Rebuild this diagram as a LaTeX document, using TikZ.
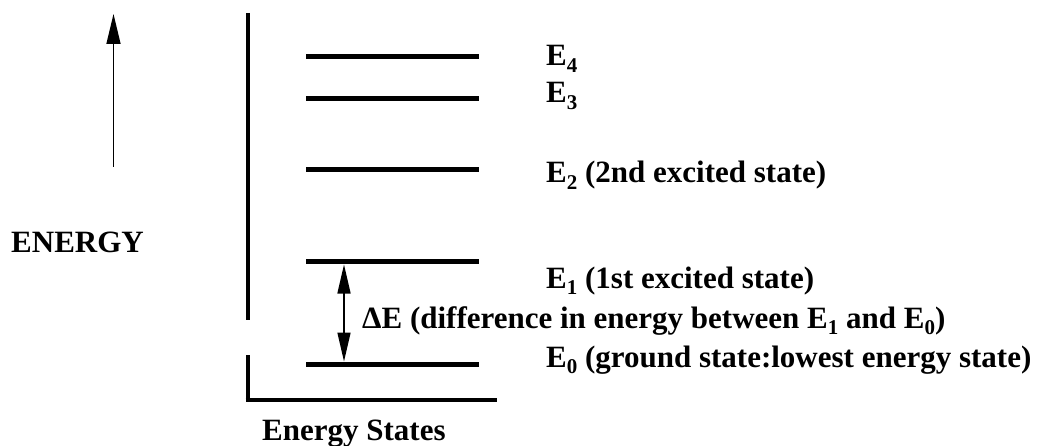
\documentclass[tikz,border=0pt]{standalone}
\usepackage{fontspec}
\setmainfont{Liberation Serif}
\usetikzlibrary{arrows.meta}
\newcommand{\mysub}[1]{\raisebox{-0.2em}{\fontsize{21}{21}\selectfont #1}}
\tikzset{
  lbl/.style={anchor=base west, inner sep=0pt, font=\fontsize{31}{37}\selectfont\bfseries},
  level/.style={line width=5pt},
  frame/.style={line width=4.8pt},
  tip/.style={-{Triangle[length=30pt,width=14pt]}, line width=1.5pt},
  dtip/.style={{Triangle[length=29pt,width=13pt]}-{Triangle[length=29pt,width=13pt]}, line width=1.5pt}
}
\begin{document}
\begin{tikzpicture}[x=1pt,y=-1pt]
\useasboundingbox (0,0) rectangle (1049,446);
% energy arrow
\coordinate (ea) at (113.5,167);
\coordinate (eb) at (113.5,14);
\draw[tip] (ea) -- (eb);
% frame
\coordinate (f1) at (248,13);
\coordinate (f2) at (248,320);
\coordinate (f3) at (248,355);
\coordinate (f4) at (248,402.4);
\coordinate (f5) at (497,400);
\draw[frame] (f1) -- (f2);
\draw[frame] (f3) -- (f4);
\draw[frame] (245.6,400) -- (f5);
% levels
\foreach \n/\y in {4/57,3/99,2/170,1/262,0/364}{
  \coordinate (L\n a) at (306,\y);
  \coordinate (L\n b) at (479,\y);
  \draw[level] (L\n a) -- (L\n b);
}
% delta E arrow
\coordinate (d1) at (344,264.5);
\coordinate (d0) at (344,361.5);
\draw[dtip] (d1) -- (d0);
% labels
\node[lbl] (t4) at (546,66) {E\mysub{4}};
\node[lbl] (t3) at (546,103) {E\mysub{3}};
\node[lbl] (t2) at (546,183) {E\mysub{2} (2nd excited state)};
\node[lbl] (t1) at (546,288) {E\mysub{1} (1st excited state)};
\node[lbl] (td) at (362,328) {ΔE (difference in energy between E\mysub{1} and E\mysub{0})};
\node[lbl] (t0) at (546,367) {E\mysub{0} (ground state:lowest energy state)};
\node[lbl] (en) at (11,253) {ENERGY};
\node[lbl] (es) at (262,440) {Energy States};
\end{tikzpicture}
\end{document}
